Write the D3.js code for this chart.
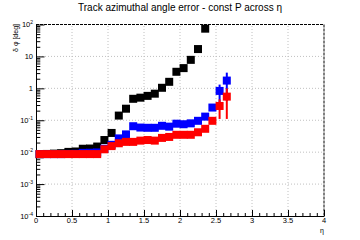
<!DOCTYPE html>
<html>
<head>
<meta charset="utf-8">
<script src="https://cdn.jsdelivr.net/npm/d3@7"></script>
<style>
  body { margin: 0; background: #fff; }
  svg { display: block; font-family: "Liberation Sans", Arial, sans-serif; }
</style>
</head>
<body>
<svg width="360" height="240"></svg>
<script>
  // eta bin centres
  const eta = [0.05, 0.15, 0.25, 0.35, 0.45, 0.55, 0.65, 0.75, 0.85, 0.95,
    1.05, 1.15, 1.25, 1.35, 1.45, 1.55, 1.65, 1.75, 1.85, 1.95,
    2.05, 2.15, 2.25, 2.35, 2.45, 2.55, 2.65];

  // delta phi [deg], three momenta
  const blackVals = [0.0086, 0.0088, 0.009, 0.0093, 0.0102, 0.0105, 0.0128, 0.013, 0.015, 0.024,
    0.04, 0.14, 0.23, 0.47, 0.51, 0.58, 0.68, 1.04, 1.6, 3.3,
    4.3, 7.8, 17, 74];
  const blueVals = [0.0087, 0.0087, 0.0087, 0.0087, 0.0088, 0.0089, 0.0095, 0.0096, 0.0098, 0.0128,
    0.017, 0.027, 0.036, 0.065, 0.059, 0.058, 0.058, 0.067, 0.063, 0.078,
    0.075, 0.08, 0.096, 0.13, 0.25, 0.83, 1.75];
  const redVals = [0.0087, 0.0087, 0.0087, 0.0087, 0.0087, 0.0087, 0.0087, 0.0087, 0.0087, 0.0123,
    0.0155, 0.019, 0.021, 0.021, 0.023, 0.024, 0.023, 0.028, 0.03, 0.035,
    0.035, 0.035, 0.042, 0.054, 0.096, 0.28, 0.55];
  const blueErr = [0, 0, 0, 0, 0, 0, 0, 0, 0, 0, 0, 0, 0, 0, 0, 0, 0, 0, 0, 0,
    0, 0, 0, 0, 0.02, 0.48, 1.35];
  const redErr = [0, 0, 0, 0, 0, 0, 0, 0, 0, 0, 0, 0, 0, 0, 0, 0, 0, 0, 0, 0,
    0, 0, 0, 0, 0.01, 0.17, 0.44];

  const xTicks = [0, 0.5, 1, 1.5, 2, 2.5, 3, 3.5, 4];
  const yTicks = [1e-4, 1e-3, 1e-2, 1e-1, 1, 10, 100];
  const yTickLabels = [['10', '-4'], ['10', '-3'], ['10', '-2'], ['10', '-1'], ['1', ''], ['10', ''], ['10', '2']];

  const svg = d3.select('svg');
  const margin = { top: 24.5, right: 36, bottom: 24, left: 36 };
  const width = +svg.attr('width');
  const height = +svg.attr('height');

  const x = d3.scaleLinear().domain([0, 4]).range([margin.left, width - margin.right]);
  const y = d3.scaleLog().domain([1e-4, 100]).range([height - margin.bottom, margin.top]);

  const x0 = x.range()[0], x1 = x.range()[1];
  const y0 = y.range()[0], y1 = y.range()[1];

  // grid
  const grid = svg.append('g').attr('stroke', '#c0c0c0').attr('stroke-dasharray', '1,2');
  grid.selectAll('.gx').data(xTicks.slice(1, -1)).join('line')
    .attr('x1', d => x(d)).attr('x2', d => x(d))
    .attr('y1', y0).attr('y2', y1);
  grid.selectAll('.gy').data(yTicks.slice(1, -1)).join('line')
    .attr('y1', d => y(d)).attr('y2', d => y(d))
    .attr('x1', x0).attr('x2', x1);

  // dashed top and right edges
  svg.append('path')
    .attr('d', `M${x0},${y1}H${x1}V${y0}`)
    .attr('fill', 'none').attr('stroke', '#000').attr('stroke-dasharray', '3,1');

  // minor tick values
  const xMinor = d3.range(0, 41).map(i => i / 10);
  const yMinor = [];
  yTicks.slice(0, -1).forEach(t => { for (let k = 1; k < 10; k++) yMinor.push(t * k); });
  yMinor.push(100);

  const xAxis = d3.axisBottom(x).tickValues(xMinor).tickFormat('').tickSizeOuter(0);
  const xAxisG = svg.append('g').attr('transform', `translate(0,${y0})`).call(xAxis);
  xAxisG.selectAll('.tick line')
    .attr('y2', d => (Math.abs(d * 2 - Math.round(d * 2)) < 1e-6 ? -6 : -3));

  const yAxis = d3.axisLeft(y).tickValues(yMinor).tickFormat('').tickSizeOuter(0);
  const yAxisG = svg.append('g').attr('transform', `translate(${x0},0)`).call(yAxis);
  yAxisG.selectAll('.tick line')
    .attr('x2', d => (yTicks.some(t => Math.abs(t - d) / t < 1e-6) ? 8.5 : 4.3));

  svg.selectAll('.domain').attr('stroke', '#000');
  svg.selectAll('.tick line').attr('stroke', '#000');

  // tick labels
  svg.append('g').selectAll('text').data(xTicks).join('text')
    .attr('x', d => x(d)).attr('y', y0 + 6.5)
    .attr('text-anchor', 'middle').attr('font-size', 7.5)
    .text(d => d);

  const yl = svg.append('g').selectAll('text').data(yTicks).join('text')
    .attr('x', x0 - 3).attr('y', d => y(d) + 2.7)
    .attr('text-anchor', 'end').attr('font-size', 7.5);
  yl.each(function (d, i) {
    const t = d3.select(this);
    const [base, exp] = yTickLabels[i];
    t.append('tspan').text(base);
    if (exp) t.append('tspan').attr('dy', -3).attr('font-size', 5).text(exp);
  });

  // title, axis titles
  svg.append('text').attr('x', 180).attr('y', 11)
    .attr('text-anchor', 'middle').attr('font-size', 10)
    .text('Track azimuthal angle error - const P across η');
  svg.append('text').attr('transform', `translate(17.5,24) rotate(-90)`)
    .attr('text-anchor', 'end').attr('font-size', 7)
    .text('δ φ [deg]');
  svg.append('text').attr('x', x1).attr('y', 232.5)
    .attr('text-anchor', 'end').attr('font-size', 7)
    .text('η');

  // data series
  const series = [
    { vals: blackVals, err: null, color: '#000000' },
    { vals: blueVals, err: blueErr, color: '#0000ff' },
    { vals: redVals, err: redErr, color: '#ff0000' }
  ];
  const m = 8;
  series.forEach(s => {
    const pts = s.vals.map((v, i) => ({ x: eta[i], v, e: s.err ? s.err[i] : 0 }));
    const g = svg.append('g');
    g.selectAll('line').data(pts.filter(d => d.e > 0)).join('line')
      .attr('x1', d => x(d.x)).attr('x2', d => x(d.x))
      .attr('y1', d => y(d.v + d.e)).attr('y2', d => y(Math.max(d.v - d.e, 1e-4)))
      .attr('stroke', s.color).attr('stroke-width', 2);
    g.selectAll('rect').data(pts).join('rect')
      .attr('x', d => x(d.x) - m / 2).attr('y', d => y(d.v) - m / 2)
      .attr('width', m).attr('height', m)
      .attr('fill', s.color);
  });
</script>
</body>
</html>
